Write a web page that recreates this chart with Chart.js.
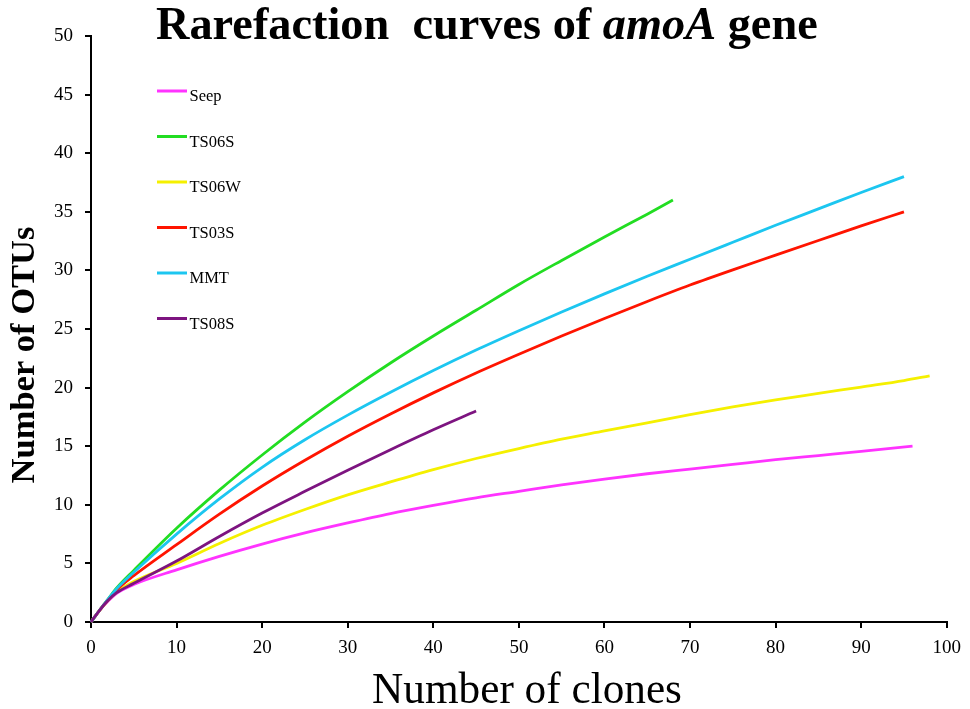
<!DOCTYPE html>
<html>
<head>
<meta charset="utf-8">
<script src="https://cdn.jsdelivr.net/npm/chart.js@4.4.0/dist/chart.umd.min.js"></script>
<style>
html,body{margin:0;padding:0;background:#fff;}
#wrap{width:970px;height:709px;position:relative;}
</style>
</head>
<body>
<div id="wrap"><canvas id="c" width="970" height="709"></canvas></div>
<script>
// ---- data ----
const seriesNames = ['Seep', 'TS06S', 'TS06W', 'TS03S', 'MMT', 'TS08S'];

const seepX = [0,1,2,3,5,10,15,20,25,30,35,40,45,50,55,60,65,70,75,80,85,90,96];
const seepY = [0,1,1.8,2.45,3.2,4.45,5.6,6.65,7.6,8.45,9.25,9.95,10.6,11.15,11.7,12.2,12.65,13.05,13.45,13.85,14.2,14.55,15];

const ts06sX = [0,1,2,3,5,10,15,20,25,30,35,40,45,50,55,60,65,68];
const ts06sY = [0,1,1.95,2.9,4.4,8.0,11.25,14.25,17.05,19.65,22.1,24.4,26.6,28.8,30.85,32.85,34.8,36];

const ts06wX = [0,1,2,3,5,10,15,20,25,30,35,40,45,50,55,60,65,70,75,80,85,90,95,98];
const ts06wY = [0,1,1.85,2.55,3.45,5.0,6.7,8.25,9.6,10.85,11.95,13.0,13.95,14.8,15.6,16.3,17.0,17.7,18.35,18.95,19.5,20.05,20.6,21];

const ts03sX = [0,1,2,3,5,10,15,20,25,30,35,40,45,50,55,60,65,70,75,80,85,90,95];
const ts03sY = [0,1,1.9,2.75,3.95,6.6,9.2,11.6,13.8,15.85,17.75,19.55,21.25,22.85,24.4,25.9,27.35,28.75,30.05,31.3,32.55,33.8,35];

const mmtX = [0,1,2,3,5,10,15,20,25,30,35,40,45,50,55,60,65,70,75,80,85,90,95];
const mmtY = [0,1,1.95,2.85,4.25,7.5,10.5,13.2,15.55,17.65,19.6,21.45,23.2,24.85,26.45,28.0,29.5,30.95,32.4,33.85,35.25,36.65,38];

const ts08sX = [0,1,2,3,5,10,15,20,25,30,35,40,45];
const ts08sY = [0,1,1.85,2.5,3.3,5.2,7.3,9.3,11.15,12.95,14.7,16.4,18];

const xTicks = [0,10,20,30,40,50,60,70,80,90,100];
const yTicks = [0,5,10,15,20,25,30,35,40,45,50];

// ---- styles ----
const seriesColors = ['#ff33ff', '#22dd22', '#f5f000', '#ff1400', '#1cc6f0', '#7d1480'];
const FAM = '"Liberation Serif", "Times New Roman", Times, serif';

const allX = [seepX, ts06sX, ts06wX, ts03sX, mmtX, ts08sX];
const allY = [seepY, ts06sY, ts06wY, ts03sY, mmtY, ts08sY];

const datasets = seriesNames.map((name, i) => ({
  label: name,
  data: allX[i].map((x, j) => ({x: x, y: allY[i][j]})),
  borderColor: seriesColors[i],
  backgroundColor: seriesColors[i],
  borderWidth: 2.8,
  pointRadius: 0,
  showLine: true,
  fill: false,
  cubicInterpolationMode: 'monotone',
  order: seriesNames.length - i,
  clip: false
}));

const decor = {
  id: 'decor',
  afterDraw(chart) {
    const ctx = chart.ctx;
    ctx.save();
    ctx.fillStyle = '#000';
    ctx.textAlign = 'left';
    ctx.textBaseline = 'alphabetic';

    // main title with italic gene name
    const parts = [['Rarefaction  curves of ', 'bold'], ['amoA', 'italic bold'], [' gene', 'bold']];
    const measure = s => parts.reduce((w, p) => { ctx.font = p[1] + ' ' + s + 'px ' + FAM; return w + ctx.measureText(p[0]).width; }, 0);
    let ts = 45;
    ts = ts * 662 / measure(ts);
    let tx = 156;
    parts.forEach(p => { ctx.font = p[1] + ' ' + ts + 'px ' + FAM; ctx.fillText(p[0], tx, 39); tx += ctx.measureText(p[0]).width; });

    // x axis title
    let xs = 43;
    ctx.font = xs + 'px ' + FAM;
    xs = xs * 310 / ctx.measureText('Number of clones').width;
    ctx.font = xs + 'px ' + FAM;
    ctx.textAlign = 'center';
    ctx.fillText('Number of clones', 527, 702.5);

    // y axis title
    let ys = 35;
    ctx.font = 'bold ' + ys + 'px ' + FAM;
    ys = ys * 257 / ctx.measureText('Number of OTUs').width;
    ctx.font = 'bold ' + ys + 'px ' + FAM;
    ctx.save();
    ctx.translate(34, 355);
    ctx.rotate(-Math.PI / 2);
    ctx.textAlign = 'center';
    ctx.fillText('Number of OTUs', 0, 0);
    ctx.restore();

    // legend
    ctx.textAlign = 'left';
    ctx.font = '16.5px ' + FAM;
    chart.data.datasets.forEach((ds, i) => {
      const ly = 91 + i * 45.5;
      ctx.strokeStyle = ds.borderColor;
      ctx.lineWidth = 3;
      ctx.beginPath();
      ctx.moveTo(157, ly);
      ctx.lineTo(187, ly);
      ctx.stroke();
      ctx.fillStyle = '#000';
      ctx.fillText(ds.label, 189.5, ly + 10);
    });
    ctx.restore();
  }
};

new Chart(document.getElementById('c'), {
  type: 'scatter',
  data: { datasets: datasets },
  options: {
    responsive: false,
    animation: false,
    devicePixelRatio: 1,
    layout: { padding: { left: 0, top: 36, right: 21, bottom: 0 } },
    plugins: {
      legend: { display: false },
      title: { display: false },
      tooltip: { enabled: false }
    },
    scales: {
      x: {
        type: 'linear',
        min: 0, max: 100,
        afterBuildTicks: s => { s.ticks = xTicks.map(v => ({value: v})); },
        afterFit: s => { s.height = 87; },
        ticks: { color: '#000', font: { family: FAM, size: 19 }, padding: 9, maxRotation: 0 },
        grid: { display: true, drawOnChartArea: false, drawTicks: true, tickLength: 6, color: '#000', lineWidth: 2 },
        border: { display: true, color: '#000', width: 2 },
        title: { display: false }
      },
      y: {
        type: 'linear',
        min: 0, max: 50,
        afterBuildTicks: s => { s.ticks = yTicks.map(v => ({value: v})); },
        afterFit: s => { s.width = 91; },
        ticks: { color: '#000', font: { family: FAM, size: 19 }, padding: 12 },
        grid: { display: true, drawOnChartArea: false, drawTicks: true, tickLength: 6, color: '#000', lineWidth: 2 },
        border: { display: true, color: '#000', width: 2 },
        title: { display: false }
      }
    }
  },
  plugins: [decor]
});
</script>
</body>
</html>
